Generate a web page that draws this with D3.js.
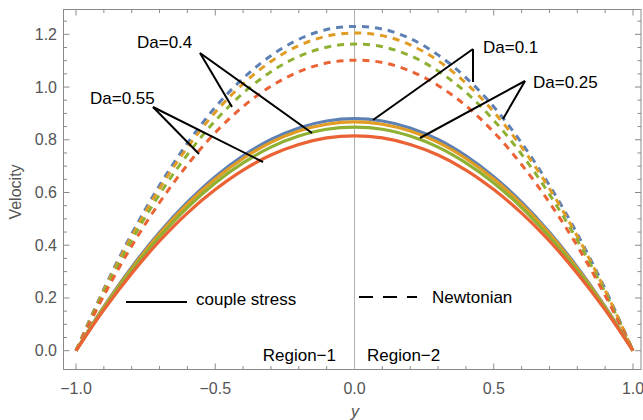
<!DOCTYPE html>
<html>
<head>
<meta charset="utf-8">
<script src="https://cdn.jsdelivr.net/npm/d3@7"></script>
<style>
  body { margin: 0; background: #fff; }
  text { font-family: "Liberation Sans", Arial, sans-serif; }
</style>
</head>
<body>
<svg id="chart" width="643" height="420"></svg>
<script>
// y positions across the channel
var yPos = [-1, -0.9, -0.8, -0.7, -0.6, -0.5, -0.4, -0.3, -0.2, -0.1, 0,
            0.1, 0.2, 0.3, 0.4, 0.5, 0.6, 0.7, 0.8, 0.9, 1];

// couple stress (solid) velocity, Da = 0.1, 0.25, 0.4, 0.55
var csDa01  = [0, .167, .317, .449, .563, .660, .739, .801, .845, .871, .880, .871, .845, .801, .739, .660, .563, .449, .317, .167, 0];
var csDa025 = [0, .165, .312, .443, .556, .651, .729, .790, .833, .859, .868, .859, .833, .790, .729, .651, .556, .443, .312, .165, 0];
var csDa04  = [0, .161, .305, .432, .543, .636, .712, .772, .814, .840, .848, .840, .814, .772, .712, .636, .543, .432, .305, .161, 0];
var csDa055 = [0, .155, .293, .416, .522, .611, .685, .742, .782, .807, .815, .807, .782, .742, .685, .611, .522, .416, .293, .155, 0];

// Newtonian (dashed) velocity
var nwDa01  = [0, .234, .443, .627, .787, .923, 1.033, 1.119, 1.181, 1.218, 1.230, 1.220, 1.184, 1.122, 1.036, .925, .788, .627, .443, .234, 0];
var nwDa025 = [0, .229, .434, .615, .771, .904, 1.012, 1.097, 1.157, 1.193, 1.205, 1.195, 1.160, 1.100, 1.015, .906, .772, .615, .434, .229, 0];
var nwDa04  = [0, .221, .419, .593, .744, .872, .977, 1.058, 1.116, 1.151, 1.163, 1.153, 1.119, 1.061, .980, .874, .745, .593, .419, .221, 0];
var nwDa055 = [0, .209, .397, .562, .705, .827, .926, 1.003, 1.058, 1.091, 1.102, 1.093, 1.061, 1.006, .929, .829, .706, .562, .397, .209, 0];

var colors = ["#5E81B5", "#E19C24", "#8FB032", "#EB6235"];
var solidSeries = [csDa01, csDa025, csDa04, csDa055];
var dashedSeries = [nwDa01, nwDa025, nwDa04, nwDa055];

var xTicks = [-1, -0.5, 0, 0.5, 1];
var yTicks = [0, 0.2, 0.4, 0.6, 0.8, 1.0, 1.2];

var svg = d3.select("#chart");

var frame = { left: 63.5, right: 641, top: 9.5, bottom: 369.5 };

var x = d3.scaleLinear().domain([-1, 1]).range([76, 633]);
var y = d3.scaleLinear().domain([0, 1.2]).range([350.7, 34.3]);

var gray = "#8a8a8a";

// frame
svg.append("rect")
  .attr("x", frame.left).attr("y", frame.top)
  .attr("width", frame.right - frame.left)
  .attr("height", frame.bottom - frame.top)
  .attr("fill", "none").attr("stroke", gray).attr("stroke-width", 1);

// ticks on all four sides
var xMinor = d3.range(-1, 1.001, 0.1);
var yMinor = d3.range(0, 1.3, 0.05).filter(function(v) { return y(v) > frame.top; });
var ticks = svg.append("g").attr("stroke", gray).attr("stroke-width", 1);

xMinor.forEach(function(v) {
  var major = xTicks.some(function(t) { return Math.abs(t - v) < 1e-6; });
  var len = major ? 6 : 3.5;
  ticks.append("line").attr("x1", x(v)).attr("x2", x(v))
    .attr("y1", frame.bottom).attr("y2", frame.bottom - len);
  ticks.append("line").attr("x1", x(v)).attr("x2", x(v))
    .attr("y1", frame.top).attr("y2", frame.top + len);
});
yMinor.forEach(function(v) {
  var major = yTicks.some(function(t) { return Math.abs(t - v) < 1e-6; });
  var len = major ? 6 : 3.5;
  ticks.append("line").attr("y1", y(v)).attr("y2", y(v))
    .attr("x1", frame.left).attr("x2", frame.left + len);
  ticks.append("line").attr("y1", y(v)).attr("y2", y(v))
    .attr("x1", frame.right).attr("x2", frame.right - len);
});

// tick labels
var fmt = d3.format(".1f");
svg.append("g").selectAll("text").data(xTicks).join("text")
  .attr("x", function(d) { return x(d); })
  .attr("y", 394)
  .attr("text-anchor", "middle")
  .attr("font-size", 16).attr("fill", "#555")
  .text(function(d) { return fmt(d).replace("-", "\u2212"); });

svg.append("g").selectAll("text").data(yTicks).join("text")
  .attr("x", 57)
  .attr("y", function(d) { return y(d) + 5.5; })
  .attr("text-anchor", "end")
  .attr("font-size", 16).attr("fill", "#555")
  .text(function(d) { return fmt(d); });

// axis titles
svg.append("text").attr("x", 355).attr("y", 417)
  .attr("text-anchor", "middle").attr("font-size", 16)
  .attr("font-style", "italic").attr("fill", "#555").text("y");
svg.append("text")
  .attr("transform", "translate(21,192) rotate(-90)")
  .attr("text-anchor", "middle").attr("font-size", 16)
  .attr("fill", "#555").text("Velocity");

// center divider
svg.append("line")
  .attr("x1", x(0)).attr("x2", x(0))
  .attr("y1", frame.top).attr("y2", frame.bottom)
  .attr("stroke", "#b0b0b0").attr("stroke-width", 1);

var line = d3.line()
  .x(function(d, i) { return x(yPos[i]); })
  .y(function(d) { return y(d); })
  .curve(d3.curveCatmullRom);

// Newtonian dashed curves
dashedSeries.forEach(function(s, i) {
  svg.append("path").datum(s)
    .attr("d", line)
    .attr("fill", "none")
    .attr("stroke", colors[i])
    .attr("stroke-width", 3)
    .attr("stroke-dasharray", "7,6");
});

// couple stress solid curves
solidSeries.forEach(function(s, i) {
  svg.append("path").datum(s)
    .attr("d", line)
    .attr("fill", "none")
    .attr("stroke", colors[i])
    .attr("stroke-width", 3.2);
});

// annotations
var notes = [
  { label: "Da=0.4",  tx: 137, ty: 48, from: [200, 53],  to: [[232, 107], [312, 133]] },
  { label: "Da=0.55", tx: 90,  ty: 104, from: [153, 107], to: [[199, 154], [263, 162]] },
  { label: "Da=0.1",  tx: 483, ty: 53, from: [473, 49],  to: [[473, 82], [373, 120]] },
  { label: "Da=0.25", tx: 533, ty: 88, from: [525, 81],  to: [[503, 119], [420, 138]] }
];
notes.forEach(function(n) {
  n.to.forEach(function(p) {
    svg.append("line")
      .attr("x1", n.from[0]).attr("y1", n.from[1])
      .attr("x2", p[0]).attr("y2", p[1])
      .attr("stroke", "#000").attr("stroke-width", 2);
  });
  svg.append("text").attr("x", n.tx).attr("y", n.ty)
    .attr("font-size", 17).attr("fill", "#000").text(n.label);
});

// legend
svg.append("line").attr("x1", 126).attr("x2", 187).attr("y1", 302).attr("y2", 302)
  .attr("stroke", "#000").attr("stroke-width", 2);
svg.append("text").attr("x", 196).attr("y", 305).attr("font-size", 17).text("couple stress");
svg.append("line").attr("x1", 359).attr("x2", 417).attr("y1", 297).attr("y2", 297)
  .attr("stroke", "#000").attr("stroke-width", 2).attr("stroke-dasharray", "14,10");
svg.append("text").attr("x", 432).attr("y", 303).attr("font-size", 17).text("Newtonian");

// region labels
svg.append("text").attr("x", 336).attr("y", 361).attr("text-anchor", "end")
  .attr("font-size", 17).text("Region\u22121");
svg.append("text").attr("x", 367).attr("y", 361)
  .attr("font-size", 17).text("Region\u22122");
</script>
</body>
</html>
